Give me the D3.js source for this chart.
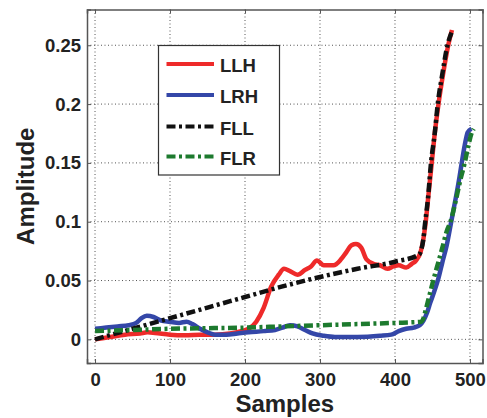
<!DOCTYPE html>
<html><head><meta charset="utf-8">
<script src="https://cdn.jsdelivr.net/npm/d3@7"></script>
<style>
html,body{margin:0;padding:0;background:#fff;}
svg text{font-family:"Liberation Sans",Arial,Helvetica,sans-serif;font-weight:bold;fill:#222;}
</style></head>
<body>
<svg id="chart" width="487" height="418"></svg>
<script>
const xTicks = [0,100,200,300,400,500];
const yTicks = [0,0.05,0.1,0.15,0.2,0.25];
const yTickLabels = ["0","0.05","0.1","0.15","0.2","0.25"];
const seriesNames = ["LLH","LRH","FLL","FLR"];

const llhS = [0,20,40,60,70,80,100,120,140,160,180,195,205,215,225,235,245,252,260,270,280,288,296,305,318,328,335,342,348,355,362,372,380,390,398,405,415,422,428,434,437,441,445,449,453,458,464,471,476];
const llhV = [0.000,0.002,0.004,0.005,0.006,0.0055,0.004,0.0035,0.004,0.004,0.005,0.007,0.009,0.015,0.027,0.045,0.055,0.060,0.058,0.055,0.059,0.062,0.067,0.063,0.063,0.068,0.074,0.080,0.081,0.078,0.068,0.064,0.063,0.060,0.062,0.063,0.061,0.064,0.067,0.074,0.082,0.100,0.125,0.150,0.175,0.200,0.225,0.250,0.263];

const lrhS = [0,15,30,45,55,62,69,78,88,100,112,122,130,140,150,160,175,190,205,225,240,250,260,270,280,290,305,320,350,380,395,405,415,425,433,438,443,447,452,458,463,469,475,481,486,489,493,497,502];
const lrhV = [0.009,0.010,0.011,0.012,0.014,0.018,0.020,0.019,0.016,0.015,0.014,0.015,0.013,0.009,0.006,0.004,0.004,0.005,0.006,0.007,0.008,0.010,0.012,0.011,0.008,0.005,0.003,0.002,0.002,0.003,0.004,0.007,0.009,0.010,0.012,0.016,0.023,0.031,0.040,0.052,0.065,0.080,0.100,0.120,0.138,0.150,0.165,0.176,0.179];

const fllS = [0,50,100,150,200,250,300,350,400,432,435,438,440,444,448,453,457,463,470,477];
const fllV = [0,0.009,0.018,0.027,0.036,0.045,0.053,0.060,0.066,0.072,0.076,0.086,0.098,0.120,0.150,0.175,0.200,0.225,0.250,0.263];

const flrS = [0,50,100,150,200,250,300,350,400,435,438,441,445,449,454,458,464,469,474,480,487,493,498,502,505];
const flrV = [0.007,0.008,0.009,0.0095,0.010,0.011,0.012,0.013,0.014,0.015,0.018,0.025,0.035,0.045,0.057,0.066,0.080,0.092,0.100,0.115,0.135,0.150,0.165,0.175,0.179];

const colors = ["#ee2a2a","#3447a8","#111111","#1d7a2e"];
const dashes = [null,null,"9,3.5,3,3.5","9,3.5,3,3.5"];

const W = 487, H = 418;
const L = 87, R = 482.5, T = 9.5, B = 363;
const x = d3.scaleLinear().domain([-10.7,516.7]).range([L,R]);
const y = d3.scaleLinear().domain([-0.0201,0.2804]).range([B,T]);

const svg = d3.select("#chart");
svg.append("rect").attr("width",W).attr("height",H).attr("fill","#fff");

// grid
const grid = svg.append("g").attr("stroke","#555").attr("stroke-width",1).attr("stroke-dasharray","1,2.5");
grid.selectAll(".gx").data(xTicks).enter().append("line")
  .attr("x1",d=>x(d)).attr("x2",d=>x(d)).attr("y1",T).attr("y2",B);
grid.selectAll(".gy").data(yTicks).enter().append("line")
  .attr("y1",d=>y(d)).attr("y2",d=>y(d)).attr("x1",L).attr("x2",R);

// axes via d3
const axB = svg.append("g").attr("transform",`translate(0,${B})`)
  .call(d3.axisBottom(x).tickValues(xTicks).tickSize(-4).tickPadding(10).tickFormat(d3.format("d")));
const axL = svg.append("g").attr("transform",`translate(${L},0)`)
  .call(d3.axisLeft(y).tickValues(yTicks).tickSize(-4).tickPadding(6).tickFormat((d,i)=>yTickLabels[i]));
const axT = svg.append("g").attr("transform",`translate(0,${T})`)
  .call(d3.axisTop(x).tickValues(xTicks).tickSize(-4).tickFormat(""));
const axR = svg.append("g").attr("transform",`translate(${R},0)`)
  .call(d3.axisRight(y).tickValues(yTicks).tickSize(-4).tickFormat(""));
[axB,axL,axT,axR].forEach(a=>{
  a.select(".domain").attr("stroke","#555").attr("stroke-width",1.5);
  a.selectAll(".tick line").attr("stroke","#555");
  a.selectAll("text").style("font-size","18.5px").attr("fill","#222");
});
axB.selectAll("text").attr("dy","0.71em");

// lines
const line = d3.line().x(d=>x(d[0])).y(d=>y(d[1])).curve(d3.curveMonotoneX);
const data = [
  d3.zip(llhS,llhV), d3.zip(lrhS,lrhV), d3.zip(fllS,fllV), d3.zip(flrS,flrV)
];
[0,1,2,3].forEach(i=>{
  svg.append("path").datum(data[i]).attr("d",line).attr("fill","none")
    .attr("stroke",colors[i]).attr("stroke-width",4.5)
    .attr("stroke-dasharray",dashes[i]).attr("stroke-linejoin","round");
});

// legend
const lg = svg.append("g");
lg.append("rect").attr("x",158.5).attr("y",45.5).attr("width",121).attr("height",129.5)
  .attr("fill","#fff").attr("stroke","#333").attr("stroke-width",1.2);
const ly = [64,95,126.5,156.5];
seriesNames.forEach((n,i)=>{
  lg.append("line").attr("x1",166.5).attr("x2",214).attr("y1",ly[i]).attr("y2",ly[i])
    .attr("stroke",colors[i]).attr("stroke-width",4).attr("stroke-dasharray",dashes[i]);
  lg.append("text").attr("x",220).attr("y",ly[i]+8).text(n).style("font-size","18.5px");
});

// axis titles
svg.append("text").attr("x",(L+R)/2).attr("y",411.5).attr("text-anchor","middle")
  .style("font-size","24px").text("Samples");
svg.append("text").attr("transform",`translate(34,${(T+B)/2}) rotate(-90)`).attr("text-anchor","middle")
  .style("font-size","24px").text("Amplitude");
</script>
</body></html>
